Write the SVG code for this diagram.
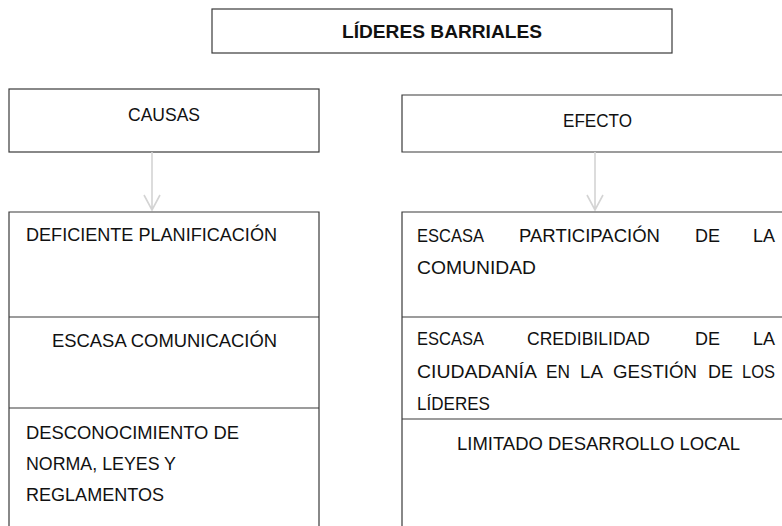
<svg xmlns="http://www.w3.org/2000/svg" width="782" height="526" viewBox="0 0 782 526">
<defs>
<style>
.box{fill:#fff;stroke:#3a3a3a;stroke-width:1.2}
.ln{stroke:#3a3a3a;stroke-width:1.2;fill:none}
.t{font-family:"Liberation Sans",Arial,sans-serif;font-size:18.5px;fill:#111}
.tb{font-family:"Liberation Sans",Arial,sans-serif;font-size:19px;font-weight:bold;fill:#111}
.arr{stroke:#d4d4d4;stroke-width:1.6;fill:none}
</style>
</defs>
<rect width="782" height="526" fill="#fff"/>
<g id="title">
<rect class="box" x="212" y="9" width="460" height="44"/>
<text class="tb" x="342" y="38" textLength="200" lengthAdjust="spacingAndGlyphs">LÍDERES BARRIALES</text>
</g>
<g id="causas">
<rect class="box" x="9" y="89" width="310" height="63"/>
<text class="t" x="128" y="121" textLength="72" lengthAdjust="spacingAndGlyphs">CAUSAS</text>
</g>
<g id="efecto">
<path class="ln" d="M783 95 H402 V152 H783" fill="#fff"/>
<text class="t" x="563" y="127" textLength="69" lengthAdjust="spacingAndGlyphs">EFECTO</text>
</g>
<g id="connectors">
<path class="arr" d="M152 152 V210 M144 195 L152 210 L160 195"/>
<path class="arr" d="M595 152 V210 M587 195 L595 210 L603 195"/>
</g>
<g id="causa-lista">
<path class="ln" d="M9 527 V212 H319 V527 M9 317 H319 M9 408 H319"/>
</g>
<g id="causa1">
<text class="t" x="26" y="241" textLength="251" lengthAdjust="spacingAndGlyphs">DEFICIENTE PLANIFICACIÓN</text>
</g>
<g id="causa2">
<text class="t" x="52" y="347" textLength="225" lengthAdjust="spacingAndGlyphs">ESCASA COMUNICACIÓN</text>
</g>
<g id="causa3">
<text class="t" x="26" y="439" textLength="213" lengthAdjust="spacingAndGlyphs">DESCONOCIMIENTO DE</text>
<text class="t" x="26" y="470" textLength="150" lengthAdjust="spacingAndGlyphs">NORMA, LEYES Y</text>
<text class="t" x="26" y="501" textLength="138" lengthAdjust="spacingAndGlyphs">REGLAMENTOS</text>
</g>
<g id="efecto-lista">
<path class="ln" d="M402 527 V212 H783 M402 317 H783 M402 419 H783"/>
</g>
<g id="efecto1">
<text class="t" x="417" y="242" textLength="67" lengthAdjust="spacingAndGlyphs">ESCASA</text>
<text class="t" x="519" y="242" textLength="141" lengthAdjust="spacingAndGlyphs">PARTICIPACIÓN</text>
<text class="t" x="695" y="242" textLength="25" lengthAdjust="spacingAndGlyphs">DE</text>
<text class="t" x="753" y="242" textLength="22" lengthAdjust="spacingAndGlyphs">LA</text>
<text class="t" x="417" y="274" textLength="119" lengthAdjust="spacingAndGlyphs">COMUNIDAD</text>
</g>
<g id="efecto2">
<text class="t" x="417" y="345" textLength="67" lengthAdjust="spacingAndGlyphs">ESCASA</text>
<text class="t" x="527" y="345" textLength="123" lengthAdjust="spacingAndGlyphs">CREDIBILIDAD</text>
<text class="t" x="695" y="345" textLength="25" lengthAdjust="spacingAndGlyphs">DE</text>
<text class="t" x="753" y="345" textLength="22" lengthAdjust="spacingAndGlyphs">LA</text>
<text class="t" x="417" y="378" textLength="120" lengthAdjust="spacingAndGlyphs">CIUDADANÍA</text>
<text class="t" x="546" y="378" textLength="24" lengthAdjust="spacingAndGlyphs">EN</text>
<text class="t" x="580" y="378" textLength="23" lengthAdjust="spacingAndGlyphs">LA</text>
<text class="t" x="613" y="378" textLength="84" lengthAdjust="spacingAndGlyphs">GESTIÓN</text>
<text class="t" x="708" y="378" textLength="25" lengthAdjust="spacingAndGlyphs">DE</text>
<text class="t" x="742" y="378" textLength="33" lengthAdjust="spacingAndGlyphs">LOS</text>
<text class="t" x="417" y="410" textLength="73" lengthAdjust="spacingAndGlyphs">LÍDERES</text>
</g>
<g id="efecto3">
<text class="t" x="457" y="450" textLength="283" lengthAdjust="spacingAndGlyphs">LIMITADO DESARROLLO LOCAL</text>
</g>
</svg>
